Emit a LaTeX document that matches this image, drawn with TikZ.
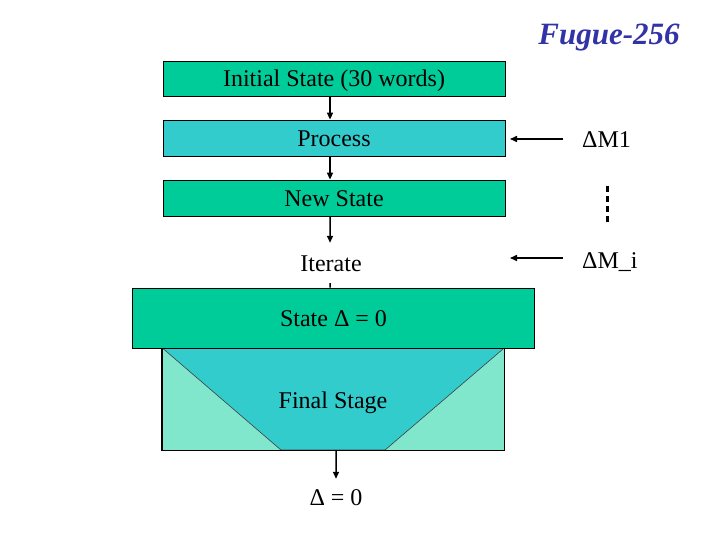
\documentclass[tikz,border=0pt]{standalone}
\usepackage{fontspec}
\setmainfont{Liberation Serif}
\usetikzlibrary{arrows.meta}
\definecolor{boxgreen}{HTML}{00CC99}
\definecolor{boxteal}{HTML}{33CCCC}
\definecolor{lightgreen}{HTML}{80E6CC}
\definecolor{titleblue}{HTML}{3333A8}
\tikzset{
  txt/.style={font=\fontsize{24bp}{28bp}\selectfont, text=black, inner sep=0pt, text height=17bp, text depth=0bp},
  stagebox/.style={txt, draw=black, line width=0.8bp, minimum width=342bp, minimum height=36bp},
  conn/.style={line width=1.5bp, -{Triangle[length=7bp,width=6bp]}},
  plain/.style={line width=1.5bp},
}
\begin{document}
\begin{tikzpicture}[x=1bp,y=-1bp]
\useasboundingbox (0,0) rectangle (720,540);
% title
\node[font=\fontsize{31bp}{36bp}\selectfont\bfseries\itshape, text=titleblue, inner sep=0pt] (title) at (609,38) {Fugue-256};
% stages
\node[stagebox, fill=boxgreen, minimum height=35bp] (init) at (334,78.5) {Initial State (30 words)};
\node[stagebox, fill=boxteal] (process) at (334,138) {Process};
\node[stagebox, fill=boxgreen] (newstate) at (334,198) {New State};
\node[txt, minimum height=40bp] (iterate) at (331,263) {Iterate};
% final region
\node[draw=black, line width=0.8bp, fill=lightgreen, minimum width=342bp, minimum height=102bp, inner sep=0pt] (finalbox) at (333.25,399) {};
\fill[boxteal, draw=black!75, line width=0.6bp] (finalbox.north west) -- (281,450) -- (385,450) -- (finalbox.north east) -- cycle;
\draw[black, line width=0.8bp] (finalbox.north west) rectangle (finalbox.south east);
\node[txt] (final) at (333,400) {Final Stage};
\node[stagebox, fill=boxgreen, minimum width=402bp, minimum height=60bp] (state0) at (333.5,318) {State Δ = 0};
\node[txt, minimum height=36bp] (delta0) at (336,497) {Δ = 0};
% vertical connectors
\draw[conn] ([xshift=-4bp]init.south) -- ([xshift=-4bp]process.north);
\draw[conn] ([xshift=-4bp]process.south) -- ([xshift=-4bp]newstate.north);
\draw[conn] ([xshift=-4bp]newstate.south) -- ([xshift=-1bp]iterate.north);
\draw[plain] ([xshift=-1bp]iterate.south) -- ([xshift=-3.5bp]state0.north);
\draw[conn] ([xshift=2.75bp]finalbox.south) -- (delta0.north);
% message inputs
\node[txt, anchor=west] (dm1) at (582,139) {ΔM1};
\node[txt, anchor=west] (dmi) at (582,260) {ΔM\_i};
\coordinate (dm1start) at (563,139);
\coordinate (dm1end) at (510,139);
\coordinate (dmistart) at (563,258);
\coordinate (dmiend) at (510,258);
\draw[conn] (dm1start) -- (dm1end);
\draw[conn] (dmistart) -- (dmiend);
\coordinate (dotstop) at (607,186);
\coordinate (dotsbot) at (607,223);
\draw[line width=3bp, dash pattern=on 6bp off 4bp] (dotstop) -- (dotsbot);
\end{tikzpicture}
\end{document}
